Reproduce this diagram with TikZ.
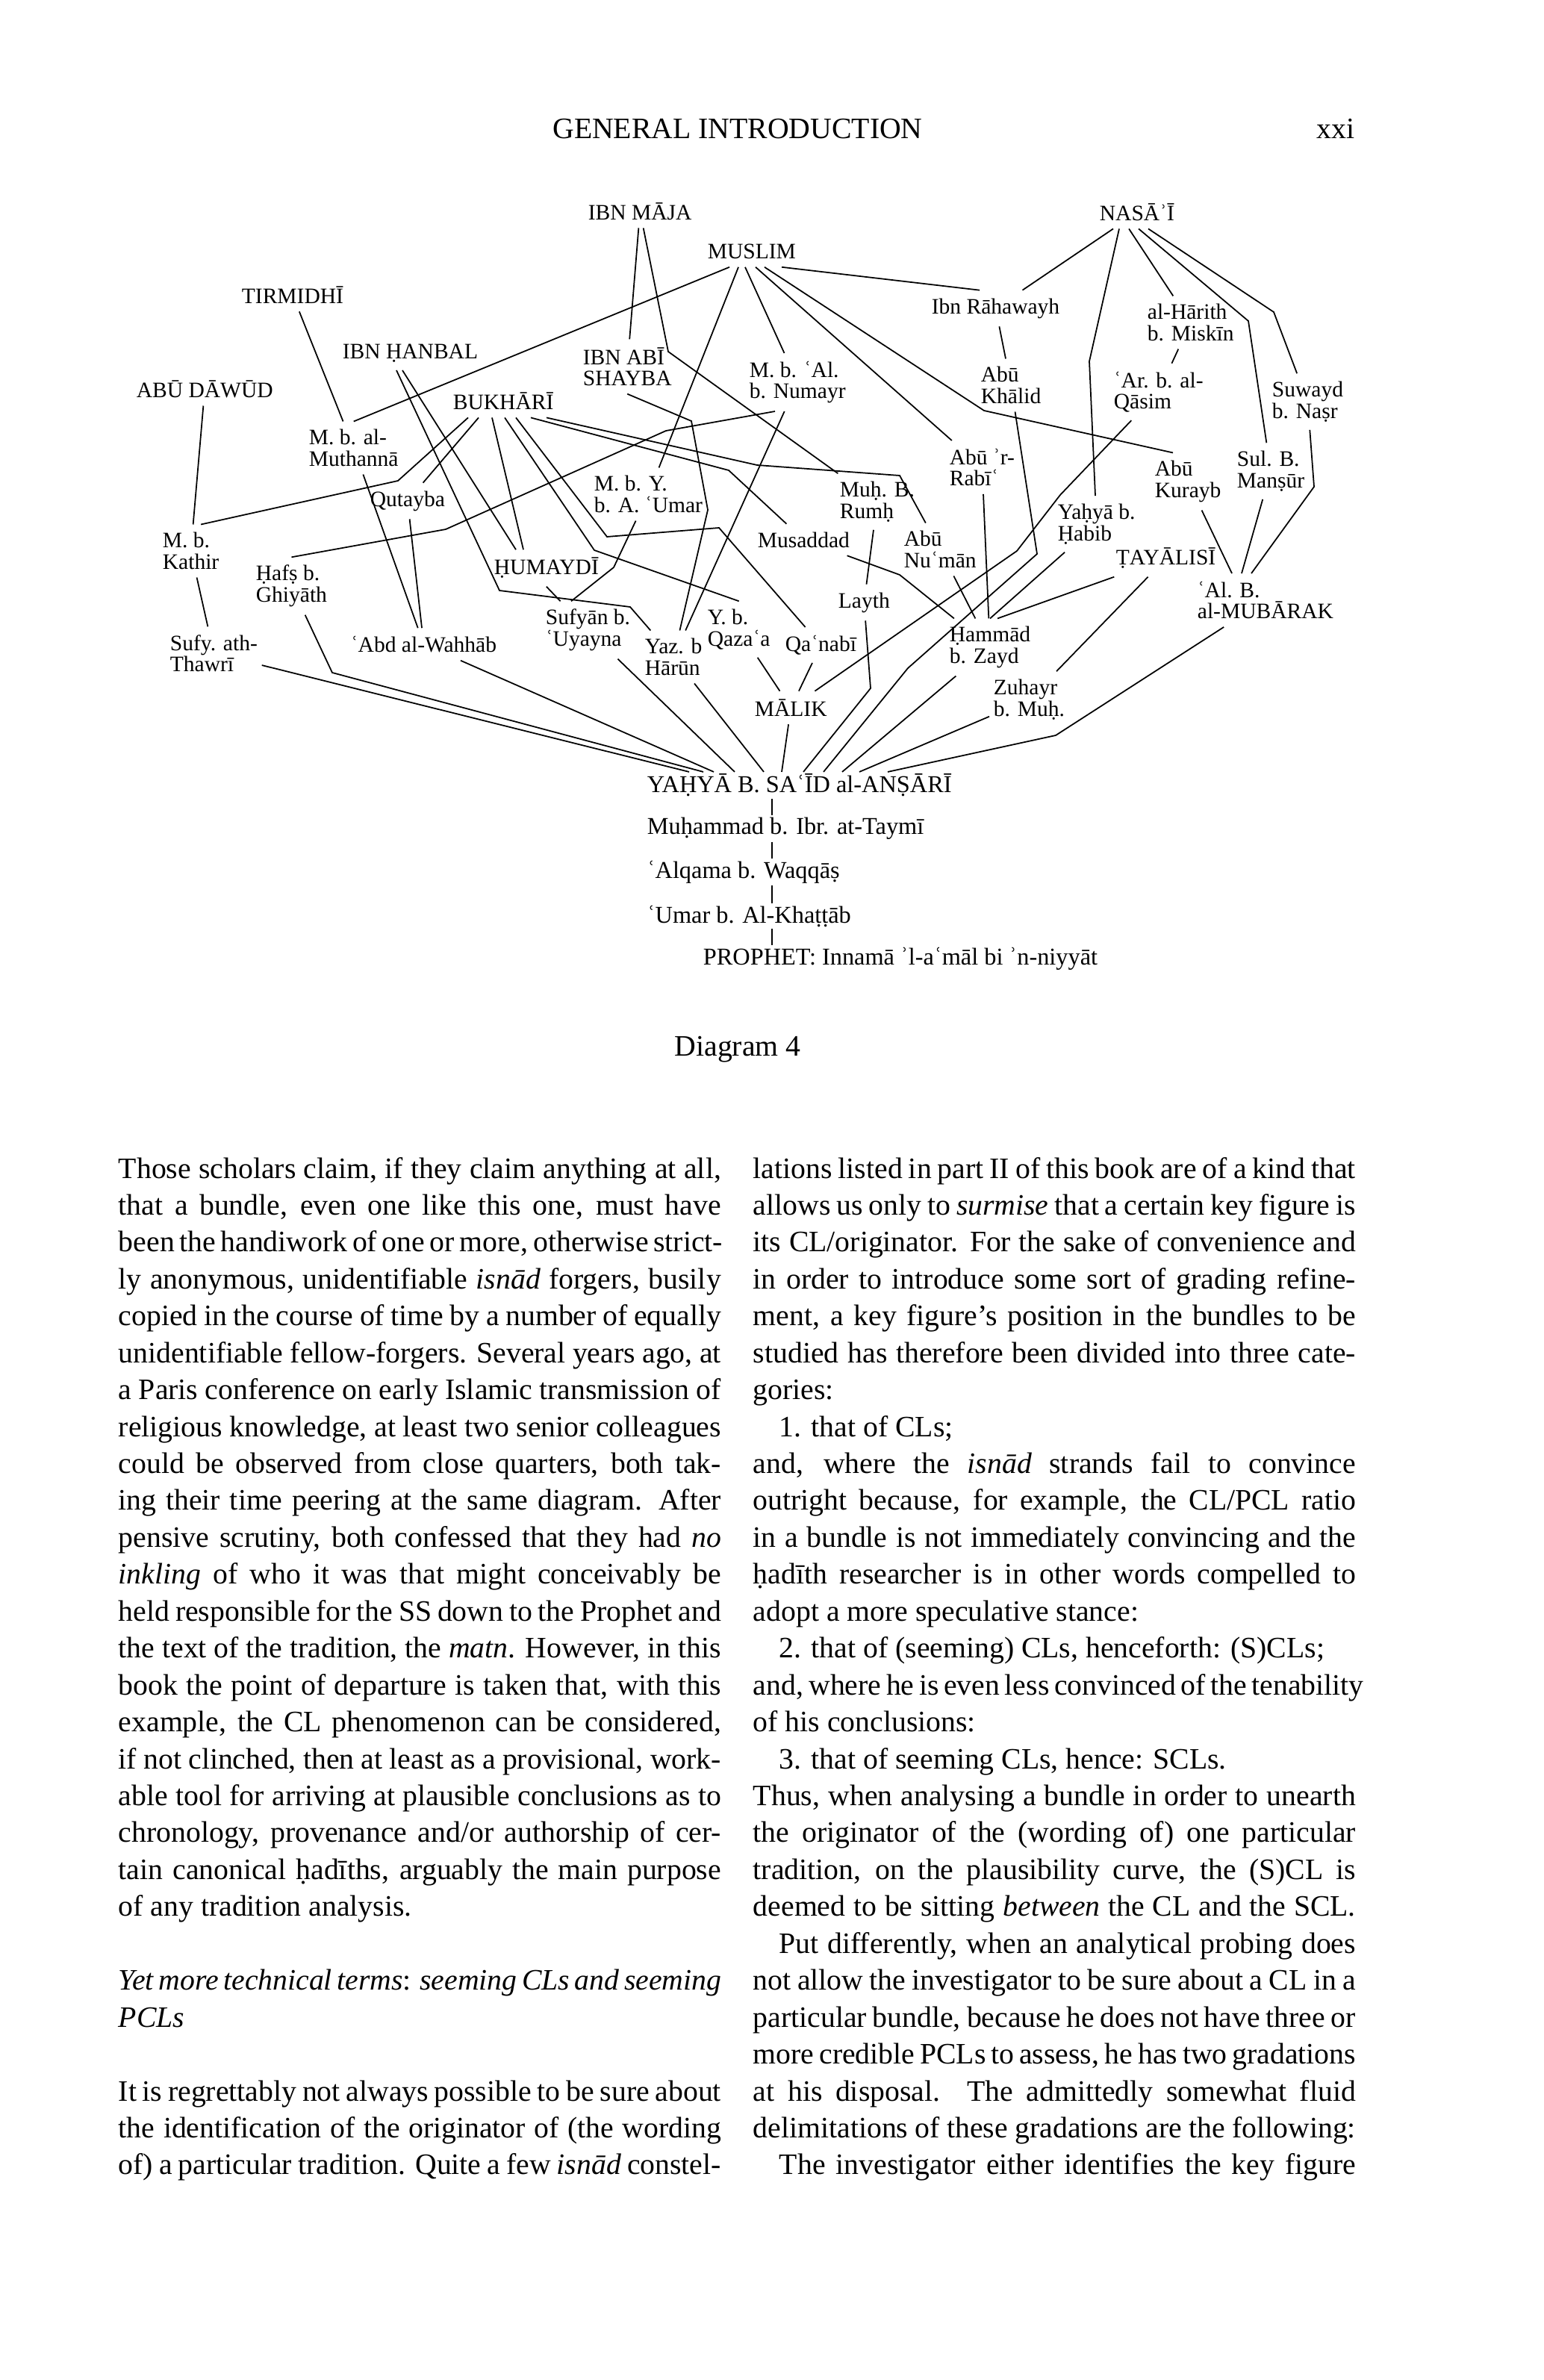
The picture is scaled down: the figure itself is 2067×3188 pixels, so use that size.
\documentclass[tikz,border=0pt]{standalone}
\usepackage{fontspec}
\setmainfont{Liberation Serif}
\usetikzlibrary{positioning}

\newcommand\diagfont{\fontsize{8.4}{8.1}\selectfont\lineskiplimit=-20pt\relax}
\newcommand\strandfont{\fontsize{9.2}{10}\selectfont}
\newcommand\bodyfont{\fontsize{11.3}{13.6}\selectfont}
\newcommand\jl[1]{\makebox[80.7mm][s]{#1}}
\newcommand\lft[1]{\makebox[80.7mm][l]{#1}}
\newcommand\indj[1]{\hspace*{3.5mm}\makebox[77.2mm][s]{#1}}
\newcommand\indl[1]{\hspace*{3.5mm}\makebox[77.2mm][l]{#1}}

\tikzset{
  narrator/.style={font=\diagfont, anchor=west, align=left, inner xsep=0.5mm, inner ysep=1mm},
  strand/.style={font=\strandfont, anchor=west, inner xsep=0.5mm, inner ysep=0.2mm},
  bodyline/.style={font=\bodyfont, anchor=base west, inner sep=0pt},
}

\begin{document}
\begin{tikzpicture}[x=0.1mm, y=-0.1mm, line width=0.5pt]
\fill[white] (0,0) rectangle (2067,3188);
\path[use as bounding box] (0,0) rectangle (2067,3188);

% running head
\node[bodyline, anchor=base] (head) at (988,186) {GENERAL INTRODUCTION};
\node[bodyline, anchor=base east] (folio) at (1815,186) {xxi};

% collectors
\node[narrator] (ibnmaja) at (782,283) {IBN MĀJA};
\node[narrator] (nasai) at (1467,284) {NASĀʾĪ};
\node[narrator] (muslim) at (942,337) {MUSLIM};
\node[narrator] (tirmidhi) at (318,395) {TIRMIDHĪ};
\node[narrator] (hanbal) at (453,473) {IBN ḤANBAL};
\node[narrator] (abudawud) at (177,521) {ABŪ DĀWŪD};
\node[narrator] (bukhari) at (601,537) {BUKHĀRĪ};

% narrators
\node[narrator] (rahawayh) at (1242,413) {Ibn Rāhawayh};
\node[narrator] (harith) at (1531,432) {al-Hārith\\b. Miskīn};
\node[narrator] (shayba) at (775,491) {IBN ABĪ\\SHAYBA};
\node[narrator] (numayr) at (998,512) {M. b. ʿAl.\\b. Numayr};
\node[narrator] (khalid) at (1308,516) {Abū\\Khālid};
\node[narrator] (qasim) at (1486,525) {ʿAr. b. al-\\Qāsim};
\node[narrator] (suwayd) at (1698,538) {Suwayd\\b. Naṣr};
\node[narrator] (muthanna) at (408,600) {M. b. al-\\Muthannā};
\node[narrator] (rabi) at (1266,626) {Abū ʾr-\\Rabīʿ};
\node[narrator] (mansur) at (1651,631) {Sul. B.\\Manṣūr};
\node[narrator] (kurayb) at (1541,645) {Abū\\Kurayb};
\node[narrator] (rumh) at (1119,672) {Muḥ. B.\\Rumḥ};
\node[narrator] (mby) at (790,662) {M. b. Y.\\b. A. ʿUmar};
\node[narrator] (qutayba) at (490,671) {Qutayba};
\node[narrator] (yhabib) at (1411,702) {Yaḥyā b.\\Ḥabib};
\node[narrator] (kathir) at (212,738) {M. b.\\Kathir};
\node[narrator] (musaddad) at (1009,723) {Musaddad};
\node[narrator] (numan) at (1205,736) {Abū\\Nuʿmān};
\node[narrator] (tayalisi) at (1489,748) {ṬAYĀLISĪ};
\node[narrator] (humaydi) at (656,761) {ḤUMAYDĪ};
\node[narrator] (hafs) at (337,785) {Ḥafṣ b.\\Ghiyāth};
\node[narrator] (mubarak) at (1598,804) {ʿAl. B.\\al-MUBĀRAK};
\node[narrator] (layth) at (1117,807) {Layth};
\node[narrator] (uyayna) at (725,844) {Sufyān b.\\ʿUyayna};
\node[narrator] (qazaa) at (942,843) {Y. b.\\Qazaʿa};
\node[narrator] (harun) at (858,880) {Yaz. b\\Hārūn};
\node[narrator] (qanabi) at (1046,864) {Qaʿnabī};
\node[narrator] (hammad) at (1266,867) {Ḥammād\\b. Zayd};
\node[narrator] (wahhab) at (464,863) {ʿAbd al-Wahhāb};
\node[narrator] (thawri) at (222,875) {Sufy. ath-\\Thawrī};
\node[narrator] (zuhayr) at (1325,937) {Zuhayr\\b. Muḥ.};
\node[narrator] (malik) at (1005,948) {MĀLIK};

% single strand
\node[strand] (yahya) at (861,1052) {YAḤYĀ B. SAʿĪD al-ANṢĀRĪ};
\node[strand] (taymi) at (861,1110) {Muḥammad b. Ibr. at-Taymī};
\node[strand] (alqama) at (861,1168) {ʿAlqama b. Waqqāṣ};
\node[strand] (umar) at (861,1227) {ʿUmar b. Al-Khaṭṭāb};
\node[strand] (prophet) at (936,1284) {PROPHET: Innamā ʾl-aʿmāl bi ʾn-niyyāt};
\coordinate (stem) at (1034,1000);

% Muslim
\draw ([xshift=3.5mm]muslim.south west) -- (muthanna.north);
\draw ([xshift=4.7mm]muslim.south west) -- (mby);
\draw ([xshift=5.6mm]muslim.south west) -- (numayr);
\draw ([xshift=7mm]muslim.south west) -- (rabi);
\draw ([xshift=8.2mm]muslim.south west) -- (1318,550) -- ([xshift=3mm]kurayb.north west);
\draw ([xshift=10.5mm]muslim.south west) -- ([xshift=7mm]rahawayh.north west);
% Ibn Maja
\draw (ibnmaja) -- (shayba);
\draw (ibnmaja) -- (895,471) -- (rumh);
% Nasai
\draw ([xshift=2.4mm]nasai.south west) -- (rahawayh);
\draw ([xshift=3.2mm]nasai.south west) -- (1459,484) -- (yhabib);
\draw ([xshift=4.5mm]nasai.south west) -- (harith);
\draw ([xshift=5.8mm]nasai.south west) -- (1672,430) -- (mansur);
\draw ([xshift=7.1mm]nasai.south west) -- (1706,418) -- (suwayd);
% Tirmidhi, Abu Dawud, Ibn Hanbal
\draw (tirmidhi) -- (muthanna);
\draw (abudawud) -- (kathir);
\draw ([xshift=7.8mm]hanbal.south west) -- (669,791) -- (844,813) -- (harun);
\draw ([xshift=8.6mm]hanbal.south west) -- ([xshift=3.5mm]humaydi.north west);
% Bukhari
\draw ([xshift=2.6mm]bukhari.south west) -- (533,644) -- ([xshift=-3mm]kathir.north east);
\draw ([xshift=4mm]bukhari.south west) -- (qutayba);
\draw ([xshift=5.8mm]bukhari.south west) -- ([xshift=4.5mm]humaydi.north west);
\draw ([xshift=7.5mm]bukhari.south west) -- (796,737) -- (qazaa.north);
\draw ([xshift=9mm]bukhari.south west) -- (813,719) -- (963,707) -- (qanabi);
\draw ([xshift=11mm]bukhari.south west) -- (976,630) -- (musaddad);
\draw ([xshift=13.1mm]bukhari.south west) -- (1014,623) -- (1205,637) -- (numan);

% intermediate links
\draw (rahawayh) -- (khalid);
\draw (harith) -- (qasim);
\draw (shayba.south) -- (926,564) -- (948,683) -- (harun);
\draw ([xshift=4mm]numayr.south west) -- (892,577) -- (597,709) -- (hafs.north);
\draw (numayr) -- (harun);
\draw (muthanna) -- (wahhab);
\draw (qutayba) -- (wahhab);
\draw (kathir) -- (thawri);
\draw (mby) -- (822,760) -- ([xshift=4mm]uyayna.north west);
\draw (humaydi.south) -- (uyayna);
\draw (rumh) -- (layth);
\draw (qazaa) -- (malik);
\draw (qanabi) -- (malik);
\draw (qasim) -- (1420,663) -- (1362,738) -- (malik);
\draw (musaddad) -- (1205,770) -- (hammad);
\draw (numan) -- (hammad);
\draw (rabi) -- (hammad);
\draw (hammad.north) -- (yhabib);
\draw ([xshift=7mm]hammad.north west) -- (tayalisi);
\draw (tayalisi) -- (zuhayr);
\draw (kurayb) -- ([xshift=5.2mm]mubarak.north west);
\draw (mansur) -- ([xshift=6.5mm]mubarak.north west);
\draw (suwayd) -- (1760,652) -- ([xshift=7.8mm]mubarak.north west);

% into Yahya b. Said
\foreach \n/\s in {thawri/6.2, wahhab/9.5, uyayna/12.3, harun/16.2, malik/18.6, hammad/26.7, zuhayr/29}
  \draw (\n) -- ([xshift=\s mm]yahya.north west);
\draw (hafs) -- (445,901) -- ([xshift=8.1mm]yahya.north west);
\draw (layth) -- (1166,922) -- ([xshift=21.5mm]yahya.north west);
\draw (khalid) -- (1389,742) -- (1216,895) -- ([xshift=24.2mm]yahya.north west);
\draw (mubarak) -- (1414,985) -- ([xshift=32.8mm]yahya.north west);
\foreach \a/\b in {yahya/taymi, taymi/alqama, alqama/umar, umar/prophet}
  \draw (\a.south -| stem) -- (\b.north -| stem);

\node[bodyline, anchor=base] (caption) at (988,1414) {Diagram 4};

% left column
\foreach \t [count=\i from 0] in {
  {\jl{Those scholars claim, if they claim anything at all,}},
  {\jl{that a bundle, even one like this one, must have}},
  {\jl{been the handiwork of one or more, otherwise strict-}},
  {\jl{ly anonymous, unidentifiable \textit{isnād} forgers, busily}},
  {\jl{copied in the course of time by a number of equally}},
  {\jl{unidentifiable fellow-forgers. Several years ago, at}},
  {\jl{a Paris conference on early Islamic transmission of}},
  {\jl{religious knowledge, at least two senior colleagues}},
  {\jl{could be observed from close quarters, both tak-}},
  {\jl{ing their time peering at the same diagram. After}},
  {\jl{pensive scrutiny, both confessed that they had \textit{no}}},
  {\jl{\textit{inkling} of who it was that might conceivably be}},
  {\jl{held responsible for the SS down to the Prophet and}},
  {\jl{the text of the tradition, the \textit{matn}. However, in this}},
  {\jl{book the point of departure is taken that, with this}},
  {\jl{example, the CL phenomenon can be considered,}},
  {\jl{if not clinched, then at least as a provisional, work-}},
  {\jl{able tool for arriving at plausible conclusions as to}},
  {\jl{chronology, provenance and/or authorship of cer-}},
  {\jl{tain canonical ḥadīths, arguably the main purpose}},
  {\lft{of any tradition analysis.}}}
  \node[bodyline] (lcol\i) at (158,{1578+49.44*\i}) {\t};
\foreach \t [count=\i from 22] in {
  {\jl{\textit{Yet more technical terms}: \textit{seeming CLs and seeming}}},
  {\lft{\textit{PCLs}}}}
  \node[bodyline] (lcol\i) at (158,{1578+49.44*\i}) {\t};
\foreach \t [count=\i from 25] in {
  {\jl{It is regrettably not always possible to be sure about}},
  {\jl{the identification of the originator of (the wording}},
  {\jl{of) a particular tradition. Quite a few \textit{isnād} constel-}}}
  \node[bodyline] (lcol\i) at (158,{1578+49.44*\i}) {\t};

% right column
\foreach \t [count=\i from 0] in {
  {\jl{lations listed in part II of this book are of a kind that}},
  {\jl{allows us only to \textit{surmise} that a certain key figure is}},
  {\jl{its CL/originator. For the sake of convenience and}},
  {\jl{in order to introduce some sort of grading refine-}},
  {\jl{ment, a key figure’s position in the bundles to be}},
  {\jl{studied has therefore been divided into three cate-}},
  {\lft{gories:}},
  {\indl{1. that of CLs;}},
  {\jl{and, where the \textit{isnād} strands fail to convince}},
  {\jl{outright because, for example, the CL/PCL ratio}},
  {\jl{in a bundle is not immediately convincing and the}},
  {\jl{ḥadīth researcher is in other words compelled to}},
  {\lft{adopt a more speculative stance:}},
  {\indl{2. that of (seeming) CLs, henceforth: (S)CLs;}},
  {\jl{and, where he is even less convinced of the tenability}},
  {\lft{of his conclusions:}},
  {\indl{3. that of seeming CLs, hence: SCLs.}},
  {\jl{Thus, when analysing a bundle in order to unearth}},
  {\jl{the originator of the (wording of) one particular}},
  {\jl{tradition, on the plausibility curve, the (S)CL is}},
  {\jl{deemed to be sitting \textit{between} the CL and the SCL.}},
  {\indj{Put differently, when an analytical probing does}},
  {\jl{not allow the investigator to be sure about a CL in a}},
  {\jl{particular bundle, because he does not have three or}},
  {\jl{more credible PCLs to assess, he has two gradations}},
  {\jl{at his disposal. The admittedly somewhat fluid}},
  {\jl{delimitations of these gradations are the following:}},
  {\indj{The investigator either identifies the key figure}}}
  \node[bodyline] (rcol\i) at (1008,{1578+49.44*\i}) {\t};
\end{tikzpicture}
\end{document}
